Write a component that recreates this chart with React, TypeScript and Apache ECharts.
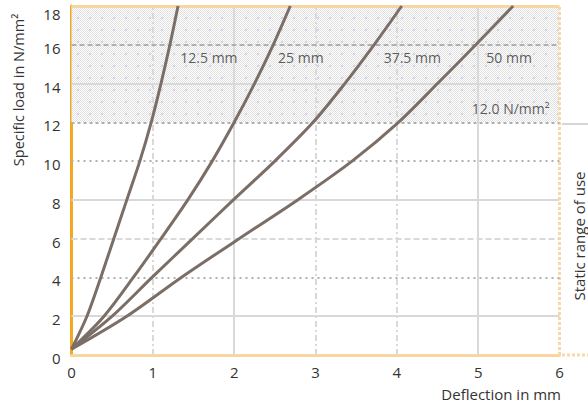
import React, { useEffect, useRef } from "react";
import * as echarts from "echarts";

// ---- data ----
const xTicks = [0, 1, 2, 3, 4, 5, 6];
const yTicks = [0, 2, 4, 6, 8, 10, 12, 14, 16, 18];
const curveNames = ["12.5 mm", "25 mm", "37.5 mm", "50 mm"];
const curve125 = [[0, 0.3], [0.19, 2], [0.36, 4], [0.52, 6], [0.68, 8], [0.84, 10], [0.98, 12], [1.1, 14], [1.21, 16], [1.31, 18]];
const curve25 = [[0, 0.3], [0.4, 2], [0.76, 4], [1.1, 6], [1.43, 8], [1.73, 10], [2.0, 12], [2.25, 14], [2.48, 16], [2.69, 18]];
const curve375 = [[0, 0.3], [0.5, 2], [0.99, 4], [1.49, 6], [1.99, 8], [2.5, 10], [2.97, 12], [3.36, 14], [3.72, 16], [4.06, 18]];
const curve50 = [[0, 0.3], [0.68, 2], [1.35, 4], [2.06, 6], [2.78, 8], [3.45, 10], [4.02, 12], [4.5, 14], [4.97, 16], [5.43, 18]];
const curves = [curve125, curve25, curve375, curve50];
const labelTexts = ["12.5 mm", "25 mm", "37.5 mm", "50 mm", "12.0 N/mm²"];
const labelX = [1.69, 2.82, 4.19, 5.38, 5.4];
const labelY = [15.36, 15.36, 15.36, 15.36, 12.73];
const staticLimit = 12;
const xName = "Deflection in mm";
const yName = "Specific load in N/mm²";
const sideName = "Static range of use";

// ---- styles (kept apart from data) ----
const FONT = "'Open Sans', sans-serif";
const LIGHT = "#d9d9d9";
const DARK = "#b0b0b0";
const xGridStyles: Record<number, any> = {
  1: { color: LIGHT, width: 2, type: [6, 3, 2, 3] },
  2: { color: LIGHT, width: 2, type: "solid" },
  3: { color: LIGHT, width: 2, type: [6, 3, 2, 3] },
  4: { color: LIGHT, width: 2, type: [6, 3, 2, 3] },
  5: { color: LIGHT, width: 2, type: "solid" },
  6: { color: "#f6d9a6", width: 3, type: [3, 2] },
};
const yGridStyles: Record<number, any> = {
  2: { color: LIGHT, width: 2, type: "solid" },
  4: { color: DARK, width: 2, type: [2, 4] },
  6: { color: LIGHT, width: 2, type: [6, 3] },
  8: { color: LIGHT, width: 2, type: "solid" },
  10: { color: DARK, width: 2, type: [2, 4] },
  12: { color: DARK, width: 2, type: [3, 3] },
  14: { color: LIGHT, width: 2, type: "solid" },
  16: { color: DARK, width: 2, type: [5, 3] },
  18: { color: "#f8d6a2", width: 3, type: "solid" },
};

function makePattern(): HTMLCanvasElement {
  const c = document.createElement("canvas");
  c.width = 12;
  c.height = 12;
  const ctx = c.getContext("2d")!;
  for (let i = 0; i < 12; i++) {
    for (let j = 0; j < 12; j++) {
      ctx.fillStyle = (i + j) % 2 === 0 ? "#e0e0e0" : "#ffffff";
      ctx.fillRect(i, j, 1, 1);
    }
  }
  ctx.fillStyle = "#d2d2ea";
  ctx.fillRect(5, 5, 2, 2);
  return c;
}

export default function App() {
  const ref = useRef<HTMLDivElement>(null);
  useEffect(() => {
    const chart = echarts.init(ref.current!, null, { renderer: "svg" });
    const pattern = makePattern();
    const gridLines: any[] = [];
    xTicks.forEach((v) => {
      if (xGridStyles[v]) gridLines.push({ xAxis: v, lineStyle: xGridStyles[v] });
    });
    yTicks.forEach((v) => {
      if (yGridStyles[v]) gridLines.push({ yAxis: v, lineStyle: yGridStyles[v] });
    });
    const yMax = yTicks[yTicks.length - 1];

    const series: any[] = [
      {
        type: "line",
        data: [],
        silent: true,
        z: 1,
        markArea: {
          silent: true,
          itemStyle: { color: { image: pattern, repeat: "repeat" } as any },
          data: [[{ coord: [xTicks[0], staticLimit] }, { coord: [xTicks[xTicks.length - 1], yMax] }]],
        },
        markLine: {
          silent: true,
          symbol: ["none", "none"],
          label: { show: false },
          data: gridLines,
        },
      },
      ...curves.map((d, i) => ({
        name: curveNames[i],
        type: "line",
        data: d,
        smooth: 0.3,
        showSymbol: false,
        z: 5,
        lineStyle: { color: "#7b6e67", width: 3 },
      })),
      {
        type: "scatter",
        data: labelTexts.map((t, i) => ({ name: t, value: [labelX[i], labelY[i]] })),
        symbolSize: 0,
        z: 6,
        label: {
          show: true,
          position: "inside",
          formatter: (p: any) => p.name,
          color: "#333",
          fontSize: 14,
          fontFamily: FONT,
        },
      },
    ];

    chart.setOption({
      animation: false,
      grid: { left: 71.5, right: 28.5, top: 6, bottom: 48, containLabel: false },
      xAxis: {
        type: "value",
        min: 0,
        max: 6,
        interval: 1,
        axisLine: { show: true, lineStyle: { color: "#f7d79e", width: 3 } },
        axisTick: { show: false },
        splitLine: { show: false },
        axisLabel: { color: "#333", fontSize: 15, fontFamily: FONT, margin: 9 },
      },
      yAxis: {
        type: "value",
        min: 0,
        max: 18,
        interval: 2,
        axisLine: { show: true, lineStyle: { color: "#f2a820", width: 3 } },
        axisTick: { show: false },
        splitLine: { show: false },
        axisLabel: {
          color: "#333",
          fontSize: 15,
          fontFamily: FONT,
          margin: 11,
          formatter: (v: number) => (v === yMax ? `{top|${v}}` : `{n|${v}}`),
          rich: {
            n: { fontSize: 15, fontFamily: FONT, color: "#333", padding: [6, 0, 0, 0] },
            top: { fontSize: 15, fontFamily: FONT, color: "#333", padding: [16, 0, 0, 0] },
          },
        },
      },
      graphic: [
        { type: "line", shape: { x1: 562, y1: 124, x2: 588, y2: 124 }, style: { stroke: "#d6d6d6", lineWidth: 2 } },
        { type: "line", shape: { x1: 562, y1: 355, x2: 588, y2: 355 }, style: { stroke: "#f6d9a6", lineWidth: 3, lineDash: [3, 2] } },
        {
          type: "text",
          x: 579,
          y: 236,
          rotation: Math.PI / 2,
          style: { text: sideName, fill: "#333", font: `15px ${FONT}`, textAlign: "center", textVerticalAlign: "middle" },
        },
        {
          type: "text",
          x: 18,
          y: 90,
          rotation: Math.PI / 2,
          style: { text: yName, fill: "#333", font: `14.5px ${FONT}`, textAlign: "center", textVerticalAlign: "middle" },
        },
        {
          type: "text",
          x: 561,
          y: 394,
          style: { text: xName, fill: "#333", font: `15px ${FONT}`, textAlign: "right", textVerticalAlign: "middle" },
        },
      ],
      series,
    });
    return () => chart.dispose();
  }, []);
  return <div ref={ref} style={{ width: 588, height: 403, position: "absolute", left: 0, top: 0 }} />;
}
